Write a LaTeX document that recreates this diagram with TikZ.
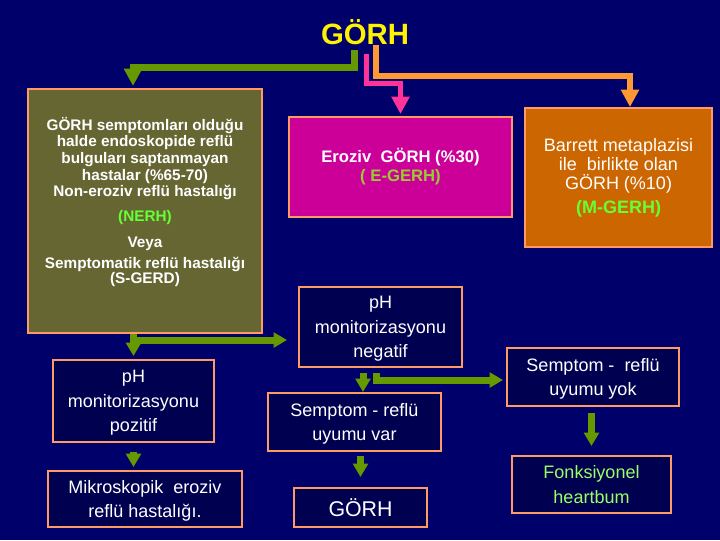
\documentclass[tikz,border=0pt]{standalone}
\usepackage{fontspec}
\setmainfont{Liberation Sans}
\usetikzlibrary{arrows.meta,positioning}

\definecolor{bgnavy}{HTML}{00006B}
\definecolor{boxnavy}{HTML}{000050}
\definecolor{olivefill}{HTML}{666633}
\definecolor{pinkfill}{HTML}{CC0099}
\definecolor{orangefill}{HTML}{CC6600}
\definecolor{edgeorange}{HTML}{FF9966}
\definecolor{arrgreen}{HTML}{669900}
\definecolor{arrpink}{HTML}{FF3399}
\definecolor{arrorange}{HTML}{FF9933}
\definecolor{txtgreen}{HTML}{66FF33}
\definecolor{txtlime}{HTML}{99CC33}
\definecolor{txtmint}{HTML}{99FF66}

\begin{document}
\begin{tikzpicture}[x=0.75pt,y=-0.75pt,
  box/.style={draw=edgeorange, line width=1.5pt, fill=boxnavy, inner sep=0pt,
    text=white, align=center, font=\fontsize{13.5}{18.5}\selectfont},
  lowbox/.style={box, text depth=-3pt},
  garrow/.style={draw=arrgreen, line width=5.25pt, -{Triangle[width=11pt,length=10pt]}},
  toparrow/.style={line width=#1, -{Triangle[width=13pt,length=13pt]}}]
% background
\fill[bgnavy] (0,0) rectangle (720,540);
\node[inner sep=0pt, text=yellow, font=\fontsize{22}{22}\selectfont\bfseries] (title) at (365,32) {GÖRH};
% first row
\node[box, fill=olivefill, minimum width=175.5pt, minimum height=183pt] (olive) at (145,211) {};
\node[align=center, text=white, font=\fontsize{11.5}{12.5}\selectfont\bfseries] (olivetext)
  at ([yshift=6.75pt]olive.center)
  {GÖRH semptomları olduğu\\
   halde endoskopide reflü\\
   bulguları saptanmayan\\
   hastalar (\%65-70)\\
   Non-eroziv reflü hastalığı\\[6pt]
   {\color{txtgreen}(NERH)}\\[7pt]
   Veya\\[3pt]
   Semptomatik reflü hastalığı\\[-1pt]
   (S-GERD)};
\node[box, fill=pinkfill, minimum width=167.25pt, minimum height=75pt,
  font=\fontsize{12.5}{14.25}\selectfont\bfseries] (pink) at (400.5,167)
  {Eroziv~ GÖRH (\%30)\\{\color{txtlime}( E-GERH)}};
\node[box, fill=orangefill, minimum width=140.25pt, minimum height=104.25pt,
  font=\fontsize{13.5}{14.5}\selectfont] (barrett) at (618.5,177.5)
  {Barrett metaplazisi\\ile~ birlikte olan\\GÖRH (\%10)\\[3pt]{\bfseries\color{txtgreen}(M-GERH)}};
% lower boxes
\node[lowbox, minimum width=122.25pt, minimum height=60pt] (phneg) at (380.5,327) {pH\\monitorizasyonu\\negatif};
\node[lowbox, minimum width=120.75pt, minimum height=61.5pt] (phpoz) at (133.5,401) {pH\\monitorizasyonu\\pozitif};
\node[lowbox, minimum width=145.5pt, minimum height=42pt, font=\fontsize{13.5}{18}\selectfont] (mikro) at (145,499)
  {Mikroskopik~ eroziv\\reflü hastalığı.};
\node[lowbox, minimum width=129.75pt, minimum height=43.5pt, font=\fontsize{13.5}{17.5}\selectfont] (uyvar) at (354.5,422)
  {Semptom - reflü\\uyumu var};
\node[box, minimum width=99.75pt, minimum height=29.25pt, font=\fontsize{16}{16}\selectfont] (gorh) at (360.5,507.5) {GÖRH};
\node[lowbox, minimum width=129pt, minimum height=43.5pt] (uyyok) at (593,377) {Semptom -~ reflü\\uyumu yok};
\node[lowbox, minimum width=119.25pt, minimum height=42.75pt, text=txtmint] (fonk) at (591.5,484.5) {Fonksiyonel\\heartbum};
% connectors from the title
\draw[toparrow=5.25pt, draw=arrgreen, shorten <=4pt, shorten >=1.5pt]
  (title.south -| 354,0) -- (354,67) -| (olive.north -| 133,0);
\draw[toparrow=3.75pt, draw=arrpink, shorten <=7pt, shorten >=1.5pt]
  (title.south -| 366,0) -- (366,83) -| (pink.north);
\draw[toparrow=4pt, draw=arrorange]
  (title.south -| 376,0) -- (376,76) -| (barrett.north -| 630,0);
% green arrows
\draw[garrow, shorten >=2.25pt] (phpoz.north |- olive.south) -- (phpoz.north);
\draw[garrow, shorten >=8.25pt] (phpoz.north |- 0,340) -- (phneg.west |- 0,340);
\draw[garrow, shorten <=6.75pt, shorten >=2.25pt] (phpoz.south) -- (phpoz.south |- mikro.north);
\draw[garrow, shorten <=3.75pt] (phneg.south -| 363,0) -- (uyvar.north -| 363,0);
\draw[garrow, shorten <=3.75pt, shorten >=2.25pt] (phneg.south -| 376,0) |- (uyyok.west |- 0,380);
\draw[garrow, shorten <=3pt, shorten >=7.5pt] (gorh.north |- uyvar.south) -- (gorh.north);
\draw[garrow, shorten <=4.5pt, shorten >=6.75pt] (uyyok.south -| fonk.north) -- (fonk.north);
\end{tikzpicture}
\end{document}
